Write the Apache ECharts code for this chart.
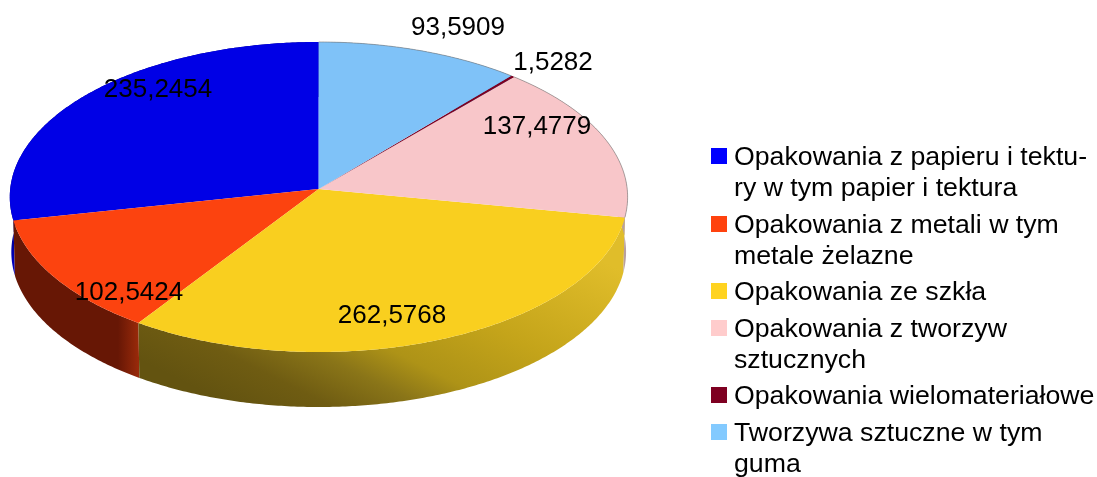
<!DOCTYPE html>
<html><head><meta charset="utf-8">
<style>html,body{margin:0;padding:0;background:#fff}#c{width:1097px;height:477px}</style>
<script src="https://cdn.jsdelivr.net/npm/echarts@6/dist/echarts.min.js"></script>
</head><body><div id="c"></div>
<script>
const categories = ['Opakowania z papieru i tektu-\nry w tym papier i tektura','Opakowania z metali w tym\nmetale żelazne','Opakowania ze szkła','Opakowania z tworzyw\nsztucznych','Opakowania wielomateriałowe','Tworzywa sztuczne w tym\nguma'];
const values = [235.2454,102.5424,262.5768,137.4779,1.5282,93.5909];
const legendColors = ['#0000ff','#ff420e','#ffd320','#ffcccc','#7e0021','#83caff'];
const topColors = ['#0000e6','#fc430f','#f9cf1f','#f8c6c9','#7e0021','#7fc2f8'];
const labelSpots = [[158,90],[129,293],[392,316],[537,127],[553,63],[458,28]];
const legendRows = [157.5,225.5,292.5,329.5,396.5,433.5];

const cx=318.7, cy=189, a=154.6, b=308.5, k=0.0516, depth=55, FONT='"Liberation Sans"';
const total = values.reduce((s,v)=>s+v,0);
const LG = (x,y,x2,y2,stops)=>new echarts.graphic.LinearGradient(x,y,x2,y2,stops.map(s=>({offset:s[0],color:s[1]})),true);
const wallFills = [
  LG(0,220,0,270,[[0,'#00007a'],[1,'#0000c8']]),
  LG(118,0,139,0,[[0,'#671705'],[1,'#9a2a0a']]),
  LG(170,375,302,111,[[0,'#635310'],[0.15,'#6f5c12'],[0.29,'#8a7518'],[0.41,'#ae9317'],[0.63,'#c4a41a'],[1,'#e0bd2a']]),
  '#b8a0a0','#5a0018','#5a90c0'];
function proj(t,drop,sc){
  const X=-Math.sin(t), Y=Math.cos(t), w=1+k*Y;
  return [cx+sc*b*X/w, cy+drop-a*Y/w];
}
function arc(t0,t1,drop,sc){
  const n=Math.max(2,Math.ceil(Math.abs(t1-t0)/0.01)), p=[];
  for(let i=0;i<=n;i++) p.push(proj(t0+(t1-t0)*i/n,drop,sc));
  return p;
}
const starts=[]; values.reduce((s,v,i)=>{starts[i]=s;return s+v;},0);
const ang=v=>v/total*2*Math.PI;

const series = categories.map((name,i)=>({
  type:'custom', name, coordinateSystem:'none', silent:true, animation:false,
  itemStyle:{color:legendColors[i]},
  data:[[values[i]]],
  renderItem(params,api){
    const t0=ang(starts[i]), t1=t0+ang(api.value(0));
    const top=arc(t0,t1,0,1);
    const children=[
      {type:'polygon',z2:1,shape:{points:top.concat(arc(t1,t0,depth,0.995))},style:{fill:wallFills[i]}},
      {type:'polygon',z2:2,shape:{points:[[cx,cy]].concat(top)},style:{fill:topColors[i]}},
      {type:'text',z2:5,style:{text:api.value(0).toFixed(4).replace('.',','),x:labelSpots[i][0],y:labelSpots[i][1],align:'center',verticalAlign:'middle',font:'26px '+FONT,fill:'#000'}}
    ];
    if(i===3||i===5) children.push({type:'polyline',z2:3,shape:{points:top},style:{fill:'none',stroke:'rgba(120,120,120,0.6)',lineWidth:1}});
    return {type:'group',children};
  }
}));

const LINE=31;
const legends = categories.map((name,i)=>{
  const two=name.includes('\n');
  return {
    orient:'vertical',left:711,top:legendRows[i]-(two?LINE*1.5:LINE/2),
    itemWidth:16,itemHeight:19,padding:0,align:'left',selectedMode:false,
    formatter:n=>n.includes('\n')?'\n'+n:n,
    textStyle:{fontFamily:FONT,fontSize:26.7,lineHeight:LINE,color:'#000',padding:[0,0,0,2]},
    data:[{name,icon:'path://M0 0H16V16H0Z M0 19L0 19Z'}]
  };
});
const chart=echarts.init(document.getElementById('c'),null,{renderer:'canvas'});
chart.setOption({animation:false, backgroundColor:'#fff', legend:legends, series});
</script></body></html>
